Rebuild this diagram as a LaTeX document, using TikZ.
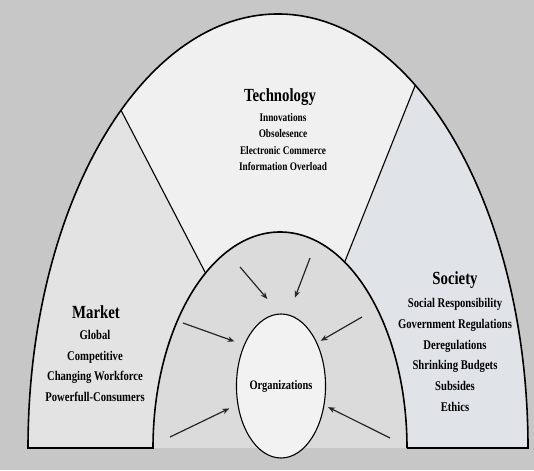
\documentclass[tikz,border=0pt]{standalone}
\usepackage{fontspec}
\setmainfont{Liberation Serif}[FakeStretch=0.8]
\usetikzlibrary{arrows.meta,calc,shapes.geometric}
\definecolor{paper}{gray}{0.78}
\definecolor{techfill}{gray}{0.94}
\definecolor{mktfill}{gray}{0.89}
\definecolor{socfill}{rgb}{0.88,0.89,0.91}
\definecolor{innerfill}{gray}{0.86}
\definecolor{orgfill}{gray}{0.95}
\tikzset{
  rim/.style={line width=1.6pt},
  divider/.style={line width=1.1pt},
  push/.style={line width=1.2pt,draw=black!85,-{Stealth[length=7pt,width=5.5pt]}},
  heading/.style={font=\fontsize{18.5}{21}\selectfont\bfseries},
  bigitems/.style={align=center,font=\fontsize{13.3}{20.9}\selectfont\bfseries},
  smallitems/.style={align=center,font=\fontsize{11.6}{16.3}\selectfont\bfseries},
}
\begin{document}
\begin{tikzpicture}[x=1pt,y=1pt]
\fill [paper] (0,0) rectangle (534,470);
\useasboundingbox (0,0) rectangle (534,470);
% end points of the two dividers
\coordinate (tlo) at ($(278,22)+(128.9:250 and 434)$);
\coordinate (tli) at ($(280,22)+(125.9:127 and 216)$);
\coordinate (tro) at ($(278,22)+(56.7:250 and 434)$);
\coordinate (tri) at ($(280,22)+(59.4:127 and 216)$);
% regions
\fill [techfill] (28,22) arc [start angle=180,end angle=0,x radius=250,y radius=434] -- cycle;
\fill [mktfill] (28,22) arc [start angle=180,end angle=128.9,x radius=250,y radius=434]
  -- (tli) arc [start angle=125.9,end angle=180,x radius=127,y radius=216] -- cycle;
\fill [socfill] (528,22) arc [start angle=0,end angle=56.7,x radius=250,y radius=434]
  -- (tri) arc [start angle=59.4,end angle=0,x radius=127,y radius=216] -- cycle;
\fill [innerfill] (153,22) arc [start angle=180,end angle=0,x radius=127,y radius=216] -- cycle;
% outlines
\draw [rim] (407,22) -- (528,22) arc [start angle=0,end angle=180,x radius=250,y radius=434]
  -- (153,22) arc [start angle=180,end angle=0,x radius=127,y radius=216];
\draw [divider] (tlo) -- (tli);
\draw [divider] (tro) -- (tri);
% centre
\node [ellipse,draw,line width=1.1pt,fill=orgfill,minimum width=88pt,minimum height=144pt,inner sep=0pt,
  font=\fontsize{13}{15}\selectfont\bfseries] (org) at (281,84) {Organizations};
% forces on the organization
\coordinate (a1) at (240,203);
\coordinate (a2) at (310,212);
\coordinate (a3) at (183,147);
\coordinate (a4) at (362,153);
\coordinate (a5) at (170,33);
\coordinate (a6) at (390,32);
\draw [push,shorten >=19pt] (a1) -- (org.91);
\draw [push,shorten >=18pt] (a2) -- (org.84);
\draw [push,shorten >=10pt] (a3) -- (org.132);
\draw [push,shorten >=4pt] (a4) -- (org.50);
\draw [push,shorten >=9pt] (a5) -- (org.203);
\draw [push,shorten >=4pt] (a6) -- (org.336);
% labels
\node [heading] (techtitle) at (280,373) {Technology};
\node [smallitems] (techlist) at (283,328) {Innovations\\Obsolesence\\Electronic Commerce\\Information Overload};
\node [heading] (mkttitle) at (96,158) {Market};
\node [bigitems] (mktlist) at (95,104) {Global\\Competitive\\Changing Workforce\\Powerfull-Consumers};
\node [heading] (soctitle) at (455,190) {Society};
\node [bigitems] (soclist) at (455,115) {Social Responsibility\\Government Regulations\\Deregulations\\Shrinking Budgets\\Subsides\\Ethics};
\end{tikzpicture}
\end{document}
